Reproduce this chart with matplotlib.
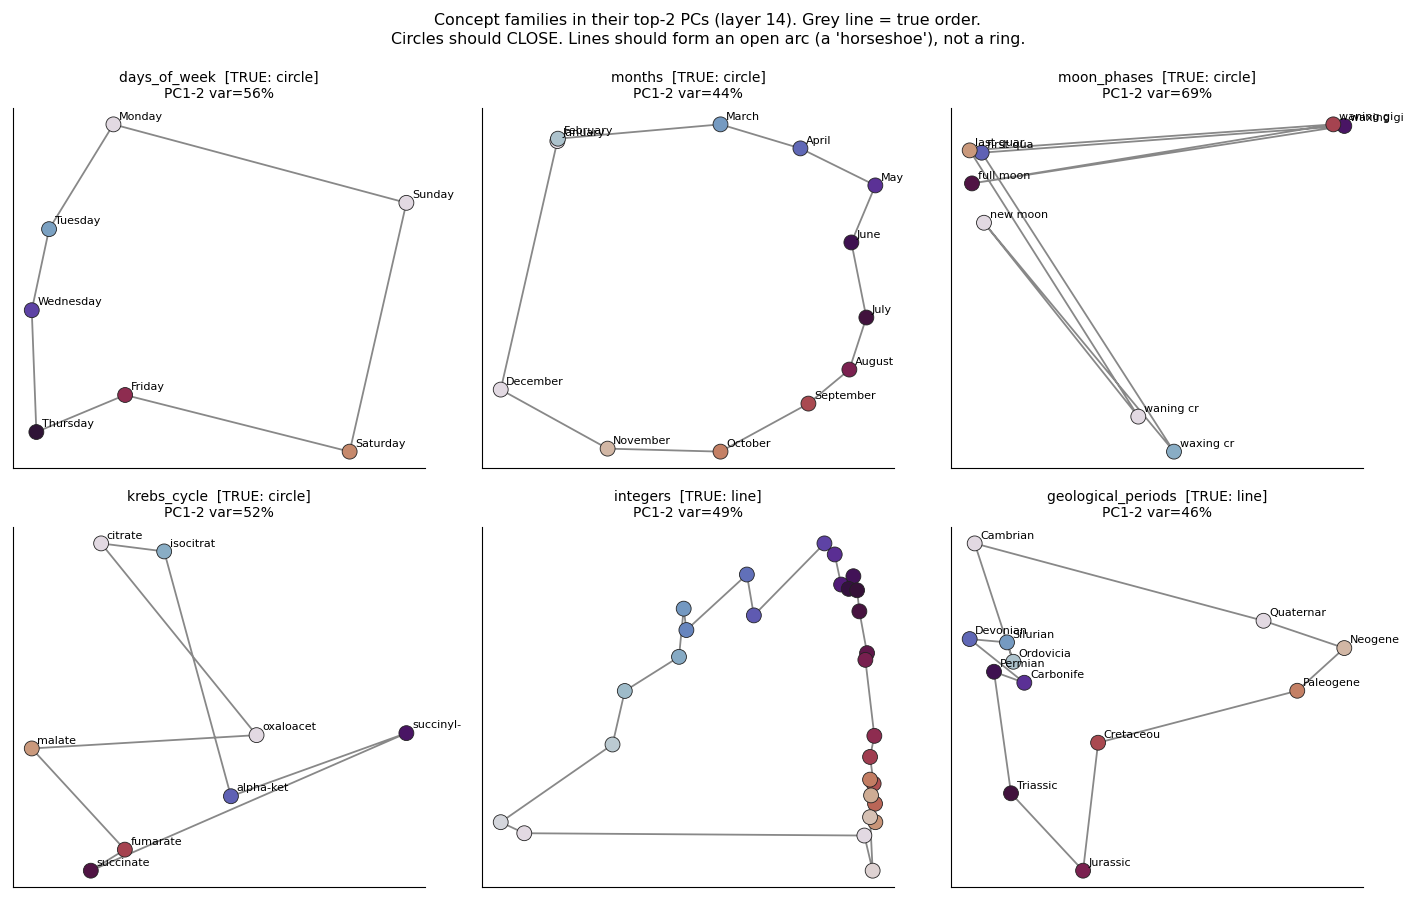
import matplotlib
matplotlib.use("Agg")
import matplotlib.pyplot as plt
import numpy as np

# ---- data (PC1, PC2 coordinates, arbitrary units) ----
days_labels = ["Monday", "Tuesday", "Wednesday", "Thursday", "Friday", "Saturday", "Sunday"]
days_pc1 = [100.3, 36, 18.7, 23.3, 112, 336.3, 393]
days_pc2 = [342.7, 238, 157, 35.3, 72.3, 15.7, 264.3]

months_labels = ["January", "February", "March", "April", "May", "June", "July",
                 "August", "September", "October", "November", "December"]
months_pc1 = [74.7, 75.3, 238, 318, 393, 369, 384, 367, 326, 238, 125, 18]
months_pc2 = [326.3, 328.7, 343, 319, 282, 225, 150, 98, 64, 16, 19, 78]

moon_labels = ["new moon", "waxing crescent", "first quarter", "waxing gibbous",
               "full moon", "waning gibbous", "last quarter", "waning crescent"]
moon_pc1 = [33, 223, 30.7, 393.3, 21, 382.3, 18.7, 187.3]
moon_pc2 = [244, 15.3, 314, 340.7, 283.3, 342.3, 316.3, 50.3]

krebs_labels = ["citrate", "isocitrate", "alpha-ketoglutarate", "succinyl-CoA",
                "succinate", "fumarate", "malate", "oxaloacetate"]
krebs_pc1 = [88, 151, 217.7, 393, 77.7, 111.7, 18.7, 243.3]
krebs_pc2 = [343.7, 335.7, 91.3, 154.3, 17, 38, 139, 152.3]

integers_labels = [str(i) for i in range(28)]
integers_pc1 = [42.3, 18.7, 130.7, 143, 197.3, 202, 204.7, 265.3, 272.3, 343,
                353.3, 359.7, 372, 367.3, 375.7, 378, 385.7, 384, 393, 388.7,
                392.3, 393.7, 388.7, 394, 389.7, 388.7, 391.3, 383]
integers_pc2 = [54.3, 65.3, 142.7, 196, 230, 278, 256.7, 312, 271.3, 343,
                332, 302, 310.3, 297.7, 296.3, 275.3, 233.7, 227, 151.3, 130.3,
                103.7, 83.7, 107.7, 65.3, 92, 70.3, 17, 52]

geo_labels = ["Cambrian", "Ordovician", "Silurian", "Devonian", "Carboniferous",
              "Permian", "Triassic", "Jurassic", "Cretaceous", "Paleogene",
              "Neogene", "Quaternary"]
geo_pc1 = [23.7, 62.3, 56, 18.7, 73.3, 43, 60, 132, 147, 346, 393, 312.3]
geo_pc2 = [343.7, 225.3, 244.7, 248, 204.3, 215.3, 93.7, 16.3, 144.3, 196.3, 239, 266.3]

families = ["days_of_week", "months", "moon_phases", "krebs_cycle", "integers", "geological_periods"]
true_shape = ["circle", "circle", "circle", "circle", "line", "line"]
variance_pct = [56, 44, 69, 52, 49, 46]

panels = [
    (days_labels, days_pc1, days_pc2, True),
    (months_labels, months_pc1, months_pc2, True),
    (moon_labels, moon_pc1, moon_pc2, True),
    (krebs_labels, krebs_pc1, krebs_pc2, True),
    (integers_labels, integers_pc1, integers_pc2, False),
    (geo_labels, geo_pc1, geo_pc2, True),
]

fig, axes = plt.subplots(2, 3, figsize=(14.16, 9.0), dpi=100)
fig.subplots_adjust(left=0.0092, right=0.9626, top=0.88, bottom=0.0144,
                    wspace=0.138, hspace=0.164)
cmap = plt.get_cmap("twilight")

for ax, name, shape, var, (labels, x, y, show_labels) in zip(
        axes.flat, families, true_shape, variance_pct, panels):
    x = np.asarray(x, float)
    y = np.asarray(y, float)
    n = len(x)
    xc = np.append(x, x[0])
    yc = np.append(y, y[0])
    ax.plot(xc, yc, color="#888888", lw=1.3, zorder=1)
    colors = cmap(np.linspace(0, 1, n))
    ax.scatter(x, y, c=colors, s=115, edgecolors="#222222", linewidths=0.6, zorder=2)
    if show_labels:
        for lab, xi, yi in zip(labels, x, y):
            ax.annotate(lab[:9], (xi, yi), xytext=(4, 2), textcoords="offset points",
                        fontsize=8, ha="left", va="bottom", zorder=3)
    ax.set_title(f"{name}  [TRUE: {shape}]\nPC1-2 var={var}%", fontsize=10, pad=7)
    ax.set_xticks([])
    ax.set_yticks([])
    ax.spines["top"].set_visible(False)
    ax.spines["right"].set_visible(False)

fig.suptitle("Concept families in their top-2 PCs (layer 14). Grey line = true order.\n"
             "Circles should CLOSE. Lines should form an open arc (a 'horseshoe'), not a ring.",
             fontsize=11.4, y=0.986, linespacing=1.35)

fig.savefig("out.png", dpi=100)
